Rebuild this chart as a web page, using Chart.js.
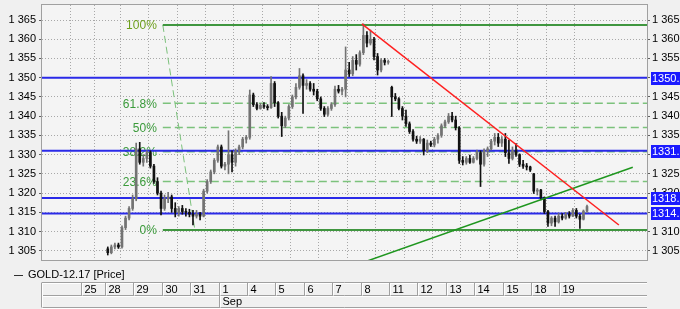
<!DOCTYPE html>
<html>
<head>
<meta charset="utf-8">
<script src="https://cdn.jsdelivr.net/npm/chart.js@4.4.0/dist/chart.umd.min.js"></script>
<style>
html, body { margin: 0; padding: 0; background: #f0f0f0; }
canvas { display: block; }
</style>
</head>
<body>
<canvas id="goldChart" width="680" height="309"></canvas>
<script>
// day cells of the date strip (x axis in day units, 0 = start of the 28th)
const days = ['25', '28', '29', '30', '31', '1', '4', '5', '6', '7', '8', '11', '12', '13', '14', '15', '18', '19'];
const dayStarts = [-0.845, 0, 1, 2, 3, 4, 5, 6, 7, 8, 9, 10, 11, 12, 13, 14, 15, 16];
const monthLabel = 'Sep';
const monthStartIndex = 5;
const barsPerDay = 8;
const seriesName = 'GOLD-12.17 [Price]';

// OHLC, 8 bars per day, 28 Aug .. 19 Sep
const opens = [
    1305.5, 1304.5, 1306, 1306.5, 1306, 1311, 1313.5, 1316,
    1318.5, 1331.5, 1328, 1329, 1330.5, 1327, 1323, 1320,
    1316, 1318.5, 1319, 1316, 1315, 1316, 1315.2, 1315,
    1314.5, 1314, 1314.5, 1314, 1320.5, 1323, 1325.5, 1328.5,
    1332, 1327, 1327.5, 1330, 1328, 1331, 1332, 1334,
    1334.5, 1345.5, 1343, 1342, 1342.8, 1342.5, 1342.2, 1348.5,
    1343.5, 1340, 1337.5, 1339.5, 1342.5, 1345, 1347.5, 1350.5,
    1348, 1348.5, 1347, 1346.5, 1344.5, 1342, 1340.5, 1342,
    1343, 1347, 1346.5, 1347, 1352, 1351, 1354.5, 1353.5,
    1356.5, 1361, 1359, 1360, 1355.5, 1352, 1354.5, 1354,
    1347.5, 1345, 1344.5, 1342, 1340, 1338, 1336, 1334,
    1333.5, 1334, 1331, 1333, 1332.5, 1334, 1335, 1337.5,
    1338.5, 1340, 1339, 1337, 1328.5, 1328, 1329, 1328,
    1329, 1330.5, 1327.5, 1331, 1331.5, 1333.5, 1334.5, 1333,
    1334, 1330.5, 1329, 1331, 1330, 1327.5, 1327, 1326.8,
    1325, 1320.5, 1320.8, 1318.8, 1315.2, 1312.2, 1313.5, 1312.5,
    1314, 1313.5, 1314.5, 1314, 1315.5, 1314, 1313.2, 1315.3
];
const highs = [
    1306, 1306.5, 1307, 1307, 1311.5, 1314, 1316.5, 1319.5,
    1333, 1333.2, 1330, 1331, 1331, 1327.5, 1324, 1320.5,
    1319.5, 1320.2, 1319.5, 1317.5, 1316.5, 1316.8, 1316, 1315.8,
    1315.5, 1315.5, 1315, 1321, 1323.5, 1326, 1329, 1332.5,
    1332.5, 1328, 1336.2, 1331, 1331.5, 1332.5, 1334.5, 1335,
    1346.8, 1346, 1343.5, 1343.3, 1343.5, 1343, 1350.3, 1349,
    1343.8, 1341, 1340, 1343, 1345.5, 1348.5, 1352.4, 1351,
    1349.5, 1349, 1348.5, 1347, 1345, 1342.5, 1342.5, 1343.5,
    1347.8, 1348, 1347.5, 1358, 1354, 1355.5, 1356, 1357,
    1364, 1362, 1362.4, 1360.5, 1356.3, 1355, 1355, 1354.6,
    1347.8, 1345.9, 1344.8, 1342.5, 1341.6, 1338.5, 1336.5, 1334.8,
    1334.7, 1334.2, 1333.8, 1333.5, 1334.5, 1335.5, 1338, 1339,
    1340.7, 1341, 1340, 1337.3, 1329.5, 1329.5, 1329.9, 1329.5,
    1331.2, 1331, 1331.5, 1332, 1334, 1335.5, 1335.5, 1334.7,
    1335.5, 1333.8, 1332, 1332.9, 1330.2, 1328.5, 1327.7, 1327,
    1325.1, 1321.2, 1321, 1319, 1315.5, 1313.9, 1314, 1314.7,
    1314.7, 1315, 1315.2, 1316, 1316, 1314.5, 1315.6, 1316.9
];
const lows = [
    1303.9, 1304.2, 1305.5, 1305.6, 1305.7, 1310.5, 1313, 1315.5,
    1318, 1327.5, 1327, 1328, 1326.5, 1322.5, 1319.5, 1314.3,
    1315.5, 1317.5, 1315, 1313.8, 1314, 1314.5, 1314, 1313.8,
    1311.7, 1313.5, 1313, 1313.8, 1320, 1322.5, 1325, 1328,
    1326.5, 1326, 1325, 1325.5, 1327, 1330, 1331.5, 1333,
    1334, 1342.5, 1341.6, 1341.8, 1342, 1341.6, 1342, 1342.5,
    1339.5, 1334.7, 1337, 1339, 1342, 1344.5, 1347, 1340.7,
    1347, 1346.5, 1345.5, 1344, 1341.5, 1339.9, 1340, 1341.5,
    1342.5, 1346, 1345.5, 1345, 1350.3, 1350.5, 1352, 1353,
    1356, 1358, 1358.5, 1354.6, 1350.7, 1351.5, 1353.3, 1353.5,
    1339.9, 1344, 1341.6, 1339, 1337.3, 1335.5, 1333.5, 1332.9,
    1332.9, 1329.9, 1330.5, 1332.1, 1332, 1333, 1334.5, 1337,
    1338.1, 1338.5, 1336.4, 1327.7, 1327.3, 1327.5, 1327.7, 1327.8,
    1328.6, 1321.7, 1327, 1329.5, 1331.2, 1332.5, 1332.1, 1332.1,
    1329.5, 1327.7, 1328.6, 1329.5, 1326.9, 1326.4, 1326, 1325.6,
    1319.9, 1319.5, 1318.2, 1314.7, 1311.3, 1311.5, 1311.3, 1312.2,
    1313, 1313.2, 1313.5, 1313.9, 1313.5, 1310.8, 1313, 1315
];
const closes = [
    1304.5, 1306, 1306.5, 1306, 1311, 1313.5, 1316, 1318.5,
    1331.5, 1328, 1329, 1330.5, 1327, 1323, 1320, 1316,
    1318.5, 1319, 1316, 1315, 1316, 1315.2, 1315, 1314.5,
    1314, 1314.5, 1314, 1320.5, 1323, 1325.5, 1328.5, 1332,
    1327, 1327.5, 1330, 1328, 1331, 1332, 1334, 1334.5,
    1345.5, 1343, 1342, 1342.8, 1342.5, 1342.2, 1348.5, 1343.5,
    1340, 1337.5, 1339.5, 1342.5, 1345, 1347.5, 1350.5, 1348,
    1348.5, 1347, 1346.5, 1344.5, 1342, 1340.5, 1342, 1343,
    1347, 1346.5, 1347, 1352, 1351, 1354.5, 1353.5, 1356.5,
    1361, 1359, 1360, 1355.5, 1352, 1354.5, 1354, 1354.2,
    1345, 1344.5, 1342, 1340, 1338, 1336, 1334, 1333.5,
    1334, 1331, 1333, 1332.5, 1334, 1335, 1337.5, 1338.5,
    1340, 1339, 1337, 1328.5, 1328, 1329, 1328, 1329,
    1330.5, 1327.5, 1331, 1331.5, 1333.5, 1334.5, 1333, 1334,
    1330.5, 1329, 1331, 1330, 1327.5, 1327, 1326.8, 1326,
    1320.5, 1320.8, 1318.8, 1315.2, 1312.2, 1313.5, 1312.5, 1314,
    1313.5, 1314.5, 1314, 1315.5, 1314, 1313.2, 1315.3, 1316.5
];

// drawn levels
const supportLevels = [1350.0, 1331.0, 1318.7, 1314.7];
const fibRatios = [1, 0.618, 0.5, 0.382, 0.236, 0];
const fibLabels = ['100%', '61.8%', '50%', '38.2%', '23.6%', '0%'];
const fibHigh = 1363.7;
const fibLow = 1310.4;
const fibStartX = 2.0;
const fibSwingEndX = 3.13;
const redTrend = [{ x: 9.01, y: 1364 }, { x: 18.06, y: 1311.7 }];
const greenTrend = [{ x: 9.18, y: 1302.3 }, { x: 18.55, y: 1326.7 }];

const yTicks = [1305, 1310, 1315, 1320, 1325, 1330, 1335, 1340, 1345, 1350, 1355, 1360, 1365];
const xMin = -2.254, xMax = 19.05;
const yMin = 1302.6, yMax = 1368.9;

const FONT = "'Liberation Sans', Arial, sans-serif";
Chart.defaults.font.family = FONT;
Chart.defaults.font.size = 11;

const barX = opens.map((_, i) => Math.floor(i / barsPerDay) + ((i % barsPerDay) + 0.5) / barsPerDay);
const candleColors = opens.map((o, i) => closes[i] >= o ? '#737373' : '#111111');
const fibValues = fibRatios.map(r => fibLow + (fibHigh - fibLow) * r);

const fmtPrice = (v) => Math.floor(v / 1000) + ' ' + String(Math.round(v) % 1000).padStart(3, '0');

const hLine = (x0, x1, y, color, width, dash) => ({
    type: 'line',
    data: [{ x: x0, y: y }, { x: x1, y: y }],
    borderColor: color,
    borderWidth: width,
    borderDash: dash || [],
    pointRadius: 0,
    yAxisID: 'y',
    order: 3
});

const datasets = [
    {
        label: 'wick',
        data: barX.map((x, i) => ({ x: x, y: [lows[i], highs[i]] })),
        backgroundColor: candleColors,
        barThickness: 1,
        grouped: false,
        yAxisID: 'y',
        order: 1
    },
    {
        label: 'body',
        data: barX.map((x, i) => ({ x: x, y: [opens[i], closes[i]] })),
        backgroundColor: candleColors,
        barThickness: 2,
        minBarLength: 1,
        grouped: false,
        yAxisID: 'y',
        order: 0
    }
];

supportLevels.forEach(v => datasets.push(hLine(xMin, xMax, v, '#2a2ae8', 2)));
fibValues.forEach((v, i) => {
    const solid = fibRatios[i] === 0 || fibRatios[i] === 1;
    datasets.push(hLine(fibStartX, xMax, v, solid ? '#3f963f' : '#7cc27c', solid ? 2 : 1.5, solid ? [] : [8, 4]));
});
datasets.push({
    type: 'line',
    data: [{ x: fibStartX, y: fibHigh }, { x: fibSwingEndX, y: fibLow }],
    borderColor: '#7cc27c', borderWidth: 1, borderDash: [7, 4],
    pointRadius: 0, yAxisID: 'y', order: 3
});
datasets.push({
    type: 'line', data: redTrend, borderColor: '#ff2020', borderWidth: 1.5,
    pointRadius: 0, yAxisID: 'y', order: -1
});
datasets.push({
    type: 'line', data: greenTrend, borderColor: '#1e961e', borderWidth: 1.5,
    pointRadius: 0, yAxisID: 'y', order: -1
});

const decorations = {
    id: 'decorations',
    beforeDraw(chart) {
        const { ctx, chartArea } = chart;
        ctx.save();
        ctx.fillStyle = '#f0f0f0';
        ctx.fillRect(0, 0, chart.width, chart.height);
        ctx.fillStyle = '#f4f4f4';
        ctx.fillRect(chartArea.left, chartArea.top, chartArea.right - chartArea.left, chartArea.bottom - chartArea.top);
        ctx.restore();
    },
    beforeDatasetsDraw(chart) {
        const { ctx } = chart;
        const xs = chart.scales.x, ys = chart.scales.y;
        ctx.save();
        ctx.font = '12px ' + FONT;
        ctx.textAlign = 'right';
        ctx.textBaseline = 'middle';
        fibValues.forEach((v, i) => {
            ctx.fillStyle = fibRatios[i] === 1 ? '#6d9e1c' : '#3a9a3a';
            ctx.fillText(fibLabels[i], xs.getPixelForValue(fibStartX) - 6, ys.getPixelForValue(v) + 1);
        });
        ctx.restore();
    },
    afterDraw(chart) {
        const { ctx, chartArea } = chart;
        const xs = chart.scales.x, ys = chart.scales.y;
        const L = chartArea.left, R = chartArea.right;
        ctx.save();

        // plot frame
        ctx.strokeStyle = '#a0a0a0';
        ctx.lineWidth = 1;
        ctx.strokeRect(Math.round(L) - 0.5, Math.round(chartArea.top) - 0.5,
            Math.round(R - L) + 1, Math.round(chartArea.bottom - chartArea.top) + 1);

        // price flags on the right axis
        ctx.font = '11px ' + FONT;
        ctx.textAlign = 'left';
        ctx.textBaseline = 'middle';
        supportLevels.forEach(v => {
            const y = ys.getPixelForValue(v);
            ctx.fillStyle = '#1a1aff';
            ctx.fillRect(R + 4, Math.round(y) - 6, 40, 13);
            ctx.fillStyle = '#ffffff';
            ctx.fillText(v.toFixed(1), R + 5, Math.round(y) + 1);
        });

        // legend line
        ctx.strokeStyle = '#303030';
        ctx.beginPath();
        ctx.moveTo(14, 275.5);
        ctx.lineTo(23, 275.5);
        ctx.stroke();
        ctx.fillStyle = '#000';
        ctx.fillText(seriesName, 28, 275);

        // date strip
        const rowY = [282.5, 295.5, 307.5];
        rowY.forEach(y => {
            ctx.strokeStyle = '#a0a0a0';
            ctx.beginPath(); ctx.moveTo(L, y); ctx.lineTo(R, y); ctx.stroke();
            ctx.strokeStyle = '#ffffff';
            ctx.beginPath(); ctx.moveTo(L, y + 1); ctx.lineTo(R, y + 1); ctx.stroke();
        });
        const vline = (px, y0, y1) => {
            ctx.strokeStyle = '#a0a0a0';
            ctx.beginPath(); ctx.moveTo(px, y0); ctx.lineTo(px, y1); ctx.stroke();
            ctx.strokeStyle = '#ffffff';
            ctx.beginPath(); ctx.moveTo(px + 1, y0 + 1); ctx.lineTo(px + 1, y1); ctx.stroke();
        };
        vline(Math.round(L) - 0.5, rowY[0], rowY[2]);
        ctx.fillStyle = '#000';
        days.forEach((d, i) => {
            const px = Math.round(xs.getPixelForValue(dayStarts[i])) - 0.5;
            vline(px, rowY[0], rowY[1]);
            ctx.fillText(d, px + 3, 289.5);
        });
        const mpx = Math.round(xs.getPixelForValue(dayStarts[monthStartIndex])) - 0.5;
        vline(mpx, rowY[1], rowY[2]);
        ctx.fillStyle = '#000';
        ctx.fillText(monthLabel, mpx + 3, 302);
        ctx.restore();
    }
};

const yScaleBase = {
    type: 'linear',
    min: yMin,
    max: yMax,
    afterBuildTicks: (scale) => { scale.ticks = yTicks.map(v => ({ value: v })); },
    ticks: { callback: (v) => fmtPrice(v), color: '#000', font: { size: 11 } }
};

new Chart(document.getElementById('goldChart'), {
    type: 'bar',
    data: { datasets: datasets },
    plugins: [decorations],
    options: {
        responsive: false,
        animation: false,
        events: [],
        layout: { padding: { top: 5, bottom: 49, left: 0, right: 0 } },
        plugins: { legend: { display: false }, tooltip: { enabled: false } },
        scales: {
            x: {
                type: 'linear',
                min: xMin,
                max: xMax,
                offset: false,
                afterBuildTicks: (scale) => { scale.ticks = dayStarts.map(v => ({ value: v })); },
                ticks: { display: false },
                grid: { color: '#a8a8a8', drawTicks: false },
                border: { display: false, dash: [1, 2] }
            },
            y: Object.assign({}, yScaleBase, {
                position: 'left',
                grid: { color: '#a8a8a8', tickColor: '#606060', tickLength: 3 },
                border: { display: false, dash: [1, 2] },
                ticks: Object.assign({}, yScaleBase.ticks, { padding: 3 }),
                afterFit: (scale) => { scale.width = 42; scale.paddingTop = 0; scale.paddingBottom = 0; }
            }),
            y2: Object.assign({}, yScaleBase, {
                position: 'right',
                grid: { drawOnChartArea: false, tickColor: '#606060', tickLength: 3 },
                border: { display: false },
                ticks: Object.assign({}, yScaleBase.ticks, { padding: 2 }),
                afterFit: (scale) => { scale.width = 33; scale.paddingTop = 0; scale.paddingBottom = 0; }
            })
        }
    }
});
</script>
</body>
</html>
